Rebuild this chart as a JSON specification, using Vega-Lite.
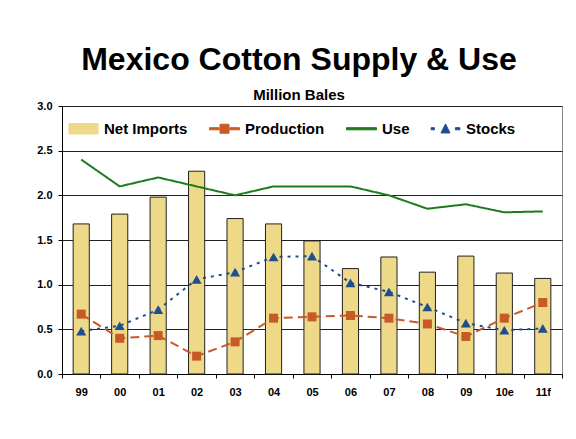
{
  "$schema": "https://vega.github.io/schema/vega-lite/v6.json",
  "width": 500,
  "height": 268,
  "autosize": "none",
  "padding": {"left": 62, "top": 106, "right": 14, "bottom": 65},
  "background": "white",
  "title": {
    "text": "Mexico Cotton Supply & Use",
    "subtitle": "Million Bales",
    "font": "Liberation Sans",
    "fontSize": 32,
    "fontWeight": "bold",
    "color": "black",
    "subtitleFont": "Liberation Sans",
    "subtitleFontSize": 15,
    "subtitleFontWeight": "bold",
    "subtitleColor": "black",
    "subtitlePadding": 11,
    "offset": -4,
    "dx": -13,
    "anchor": "middle"
  },
  "config": {
    "view": {"stroke": "#888888", "strokeWidth": 1},
    "font": "Liberation Sans"
  },
  "data": {
    "values": [
      {"year": "99", "series": "Net Imports", "value": 1.68},
      {"year": "00", "series": "Net Imports", "value": 1.79},
      {"year": "01", "series": "Net Imports", "value": 1.98},
      {"year": "02", "series": "Net Imports", "value": 2.27},
      {"year": "03", "series": "Net Imports", "value": 1.74},
      {"year": "04", "series": "Net Imports", "value": 1.68},
      {"year": "05", "series": "Net Imports", "value": 1.49},
      {"year": "06", "series": "Net Imports", "value": 1.18},
      {"year": "07", "series": "Net Imports", "value": 1.31},
      {"year": "08", "series": "Net Imports", "value": 1.14},
      {"year": "09", "series": "Net Imports", "value": 1.32},
      {"year": "10e", "series": "Net Imports", "value": 1.13},
      {"year": "11f", "series": "Net Imports", "value": 1.07},
      {"year": "99", "series": "Production", "value": 0.67},
      {"year": "00", "series": "Production", "value": 0.40},
      {"year": "01", "series": "Production", "value": 0.43},
      {"year": "02", "series": "Production", "value": 0.20},
      {"year": "03", "series": "Production", "value": 0.36},
      {"year": "04", "series": "Production", "value": 0.625},
      {"year": "05", "series": "Production", "value": 0.64},
      {"year": "06", "series": "Production", "value": 0.655},
      {"year": "07", "series": "Production", "value": 0.625},
      {"year": "08", "series": "Production", "value": 0.56},
      {"year": "09", "series": "Production", "value": 0.42},
      {"year": "10e", "series": "Production", "value": 0.625},
      {"year": "11f", "series": "Production", "value": 0.80},
      {"year": "99", "series": "Use", "value": 2.4},
      {"year": "00", "series": "Use", "value": 2.1},
      {"year": "01", "series": "Use", "value": 2.2},
      {"year": "02", "series": "Use", "value": 2.1},
      {"year": "03", "series": "Use", "value": 2.0},
      {"year": "04", "series": "Use", "value": 2.1},
      {"year": "05", "series": "Use", "value": 2.1},
      {"year": "06", "series": "Use", "value": 2.1},
      {"year": "07", "series": "Use", "value": 2.0},
      {"year": "08", "series": "Use", "value": 1.85},
      {"year": "09", "series": "Use", "value": 1.9},
      {"year": "10e", "series": "Use", "value": 1.81},
      {"year": "11f", "series": "Use", "value": 1.82},
      {"year": "99", "series": "Stocks", "value": 0.48},
      {"year": "00", "series": "Stocks", "value": 0.54},
      {"year": "01", "series": "Stocks", "value": 0.72},
      {"year": "02", "series": "Stocks", "value": 1.06},
      {"year": "03", "series": "Stocks", "value": 1.14},
      {"year": "04", "series": "Stocks", "value": 1.31},
      {"year": "05", "series": "Stocks", "value": 1.32},
      {"year": "06", "series": "Stocks", "value": 1.02},
      {"year": "07", "series": "Stocks", "value": 0.92},
      {"year": "08", "series": "Stocks", "value": 0.75},
      {"year": "09", "series": "Stocks", "value": 0.57},
      {"year": "10e", "series": "Stocks", "value": 0.49},
      {"year": "11f", "series": "Stocks", "value": 0.51}
    ]
  },
  "encoding": {
    "x": {
      "field": "year",
      "type": "nominal",
      "sort": ["99", "00", "01", "02", "03", "04", "05", "06", "07", "08", "09", "10e", "11f"],
      "scale": {"paddingInner": 0, "paddingOuter": 0},
      "axis": {
        "title": null,
        "labelAngle": 0,
        "tickBand": "extent",
        "grid": false,
        "domainColor": "black",
        "domainWidth": 1,
        "tickColor": "black",
        "tickSize": 4,
        "labelFont": "Liberation Sans",
        "labelFontSize": 11,
        "labelFontWeight": "bold",
        "labelColor": "black",
        "labelPadding": 8
      }
    },
    "y": {
      "field": "value",
      "type": "quantitative",
      "scale": {"domain": [0, 3], "nice": false},
      "axis": {
        "title": null,
        "values": [0, 0.5, 1, 1.5, 2, 2.5, 3],
        "format": ".1f",
        "grid": true,
        "gridColor": "#222222",
        "gridWidth": 1,
        "domainColor": "black",
        "tickColor": "black",
        "tickSize": 4,
        "labelFont": "Liberation Sans",
        "labelFontSize": 11,
        "labelFontWeight": "bold",
        "labelColor": "black",
        "labelPadding": 6
      }
    },
    "color": {
      "field": "series",
      "type": "nominal",
      "scale": {
        "domain": ["Net Imports", "Production", "Use", "Stocks"],
        "range": ["#EED989", "#C85A28", "#1E7B1E", "#1F4E8F"]
      },
      "legend": {
        "orient": "none",
        "legendX": 6,
        "legendY": 7,
        "direction": "horizontal",
        "title": null,
        "symbolSize": 900,
        "labelFont": "Liberation Sans",
        "labelFontSize": 15,
        "labelFontWeight": "bold",
        "labelColor": "black",
        "labelOffset": 5,
        "columnPadding": 19,
        "padding": 0,
        "fillColor": "white",
        "encode": {
          "symbols": {
            "update": {
              "shape": {"signal": "datum.value === 'Net Imports' ? 'M-0.97,-0.35H0.97V0.35H-0.97Z' : datum.value === 'Production' ? 'M-1,-0.07H-0.36V0.07H-1Z M-0.3,-0.3H0.3V0.3H-0.3Z M0.36,-0.07H1V0.07H0.36Z' : datum.value === 'Use' ? 'M-1,-0.07H1V0.07H-1Z' : 'M-0.96,-0.07H-0.74V0.07H-0.96Z M-0.3,0.28L0,-0.32L0.3,0.28Z M0.66,-0.07H0.96V0.07H0.66Z'"},
              "fill": {"scale": "color", "field": "value"},
              "stroke": {"signal": "datum.value === 'Net Imports' ? '#222222' : 'transparent'"},
              "strokeWidth": {"value": 1},
              "strokeDash": {"value": []},
              "opacity": {"value": 1},
              "fillOpacity": {"value": 1},
              "size": {"value": 900}
            }
          }
        }
      }
    }
  },
  "layer": [
    {
      "transform": [{"filter": "datum.series === 'Net Imports'"}],
      "mark": {"type": "bar", "width": {"band": 0.42}, "stroke": "#222222", "strokeWidth": 1}
    },
    {
      "transform": [{"filter": "datum.series !== 'Net Imports'"}],
      "mark": {"type": "line", "strokeWidth": 2},
      "encoding": {
        "strokeDash": {
          "field": "series",
          "type": "nominal",
          "scale": {"domain": ["Production", "Use", "Stocks"], "range": [[9, 5], [1, 0], [3, 5]]},
          "legend": null
        }
      }
    },
    {
      "transform": [{"filter": "datum.series === 'Production'"}],
      "mark": {"type": "point", "shape": "square", "filled": true, "size": 81, "opacity": 1}
    },
    {
      "transform": [{"filter": "datum.series === 'Stocks'"}],
      "mark": {"type": "point", "shape": "triangle-up", "filled": true, "size": 100, "opacity": 1}
    }
  ]
}
